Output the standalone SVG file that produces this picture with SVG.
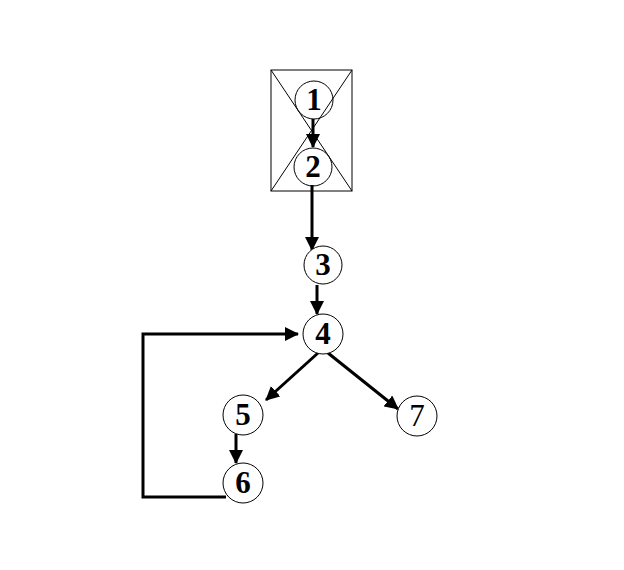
<svg xmlns="http://www.w3.org/2000/svg" width="624" height="570" viewBox="0 0 624 570">
<defs>
<style>
.node circle{fill:#fff;stroke:#000;stroke-width:1}
.node text{font-family:"Liberation Serif",serif;font-size:31px;font-weight:bold;text-anchor:middle;fill:#000}
.edge{stroke:#000;stroke-width:3;fill:none}
</style>
<marker id="ahl" markerWidth="14" markerHeight="14" refX="13" refY="7" orient="auto" markerUnits="userSpaceOnUse" viewBox="0 0 14 14">
<path d="M0,0 L14,7 L0,14 Z" fill="#000"/>
</marker>
</defs>
<rect width="624" height="570" fill="#fff"/>
<g id="box">
<rect x="271" y="70" width="81" height="121" fill="none" stroke="#000" stroke-width="1"/>
<line x1="271" y1="70" x2="352" y2="191" stroke="#000" stroke-width="1"/>
<line x1="352" y1="70" x2="271" y2="191" stroke="#000" stroke-width="1"/>
</g>
<g id="connectors">
<line class="edge" x1="313" y1="119" x2="313" y2="147" stroke-width="3.5" marker-end="url(#ahl)"/>
<line class="edge" x1="312" y1="185" x2="312" y2="250" stroke-width="4" marker-end="url(#ahl)"/>
<line class="edge" x1="317" y1="285" x2="317" y2="314" marker-end="url(#ahl)"/>
<line class="edge" x1="318" y1="353" x2="266" y2="400" marker-end="url(#ahl)"/>
<line class="edge" x1="328" y1="353" x2="398" y2="409" marker-end="url(#ahl)"/>
<line class="edge" x1="236" y1="434" x2="236" y2="463" marker-end="url(#ahl)"/>
<polyline class="edge" points="226,497 143,497 143,334 298,334" stroke-width="2" marker-end="url(#ahl)"/>
</g>
<g id="n1" class="node"><circle cx="314" cy="100" r="19" style="fill:none"/><text x="314" y="110">1</text></g>
<g id="n2" class="node"><circle cx="313" cy="167" r="19" style="fill:none"/><text x="313" y="177">2</text></g>
<g id="n3" class="node"><circle cx="323" cy="265" r="19"/><text x="323" y="275">3</text></g>
<g id="n4" class="node"><circle cx="323" cy="334" r="20"/><text x="323" y="344">4</text></g>
<g id="n5" class="node"><circle cx="243" cy="415" r="20"/><text x="243" y="425">5</text></g>
<g id="n6" class="node"><circle cx="243" cy="483" r="20"/><text x="243" y="493">6</text></g>
<g id="n7" class="node"><circle cx="417" cy="416" r="20"/><text x="417" y="426" style="font-weight:normal">7</text></g>
</svg>
